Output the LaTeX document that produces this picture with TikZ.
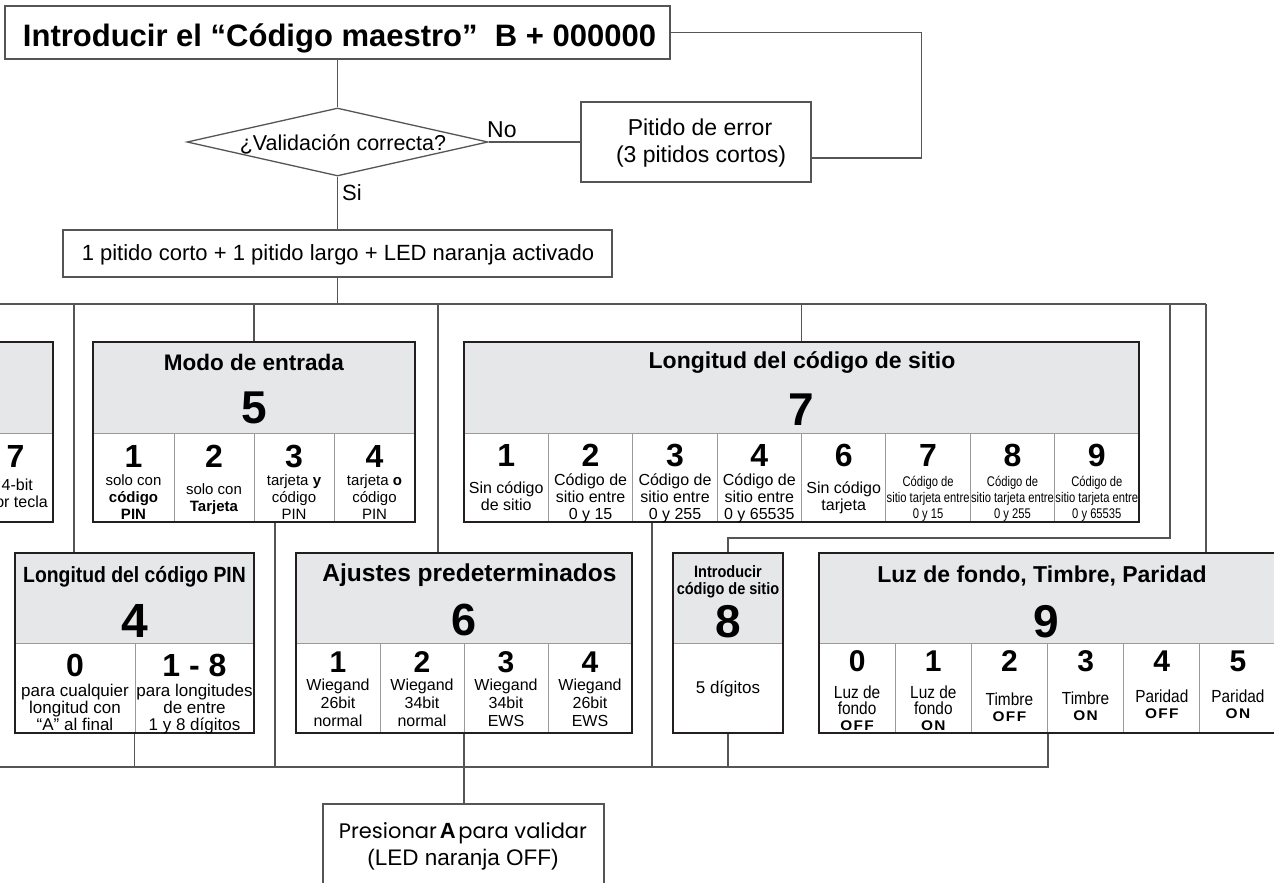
\documentclass[tikz,border=0pt]{standalone}
\usepackage{fontspec}
\setmainfont{Liberation Sans}
\newfontfamily\narrowA[FakeStretch=0.8]{Liberation Sans}
\newfontfamily\narrowB[FakeStretch=0.88]{Liberation Sans}
\newfontfamily\spacedf[LetterSpace=10,FakeStretch=1.1]{Liberation Sans}
\newfontfamily\popf{Poppins}
\usetikzlibrary{shapes.geometric,calc,fit}
\newcommand\fs[2]{\fontsize{#1}{#2}\selectfont}
\definecolor{hdrgray}{HTML}{E6E7E8}
\definecolor{framec}{HTML}{231F20}
\definecolor{connc}{HTML}{555555}
\definecolor{cellc}{HTML}{9A9A9A}
\begin{document}
\begin{tikzpicture}[x=1pt,y=-1pt,
  line/.style={draw=connc, line width=1.3pt},
  plainbox/.style={draw=connc, line width=1.3pt, rectangle, inner sep=0pt},
  secframe/.style={draw=framec, line width=2pt, rectangle, inner sep=0pt},
  div/.style={draw=cellc, line width=1pt},
  txt/.style={inner sep=0pt, align=center, text=black},
  basest/.style={txt, anchor=base},
  cellt/.style={txt, anchor=north},
]
\clip (0,0) rectangle (1274,883);
\fill[white] (0,0) rectangle (1274,883);

% ---------- top part ----------
\node[plainbox, fit={(5,6) (670,59)}] (title) {};
\node[basest, font=\fs{31}{31}\bfseries] (titletxt) at (339.5,46.5) {Introducir el “Código maestro”\ \ B + 000000};

\node[diamond, draw=connc, line width=1.3pt, minimum width=301pt, minimum height=68pt, inner sep=0pt] (valid) at (337.5,142) {};
\node[basest, font=\fs{21.5}{22}] (validtxt) at (343,150) {¿Validación correcta?};

\node[plainbox, fit={(581,102) (811,182)}] (err) {};
\node[basest, font=\fs{23}{23}] (errt1) at (700,135) {Pitido de error};
\node[basest, font=\fs{23}{23}] (errt2) at (701,162) {(3 pitidos cortos)};

\node[plainbox, fit={(63,230) (612,277)}] (led) {};
\node[basest, font=\fs{22}{22}] (ledtxt) at (338,260) {1 pitido corto + 1 pitido largo + LED naranja activado};

\node[txt, anchor=base west, font=\fs{23}{23}] (nolbl) at (487,137) {No};
\node[txt, anchor=base west, font=\fs{22}{22}] (silbl) at (342,200) {Si};

\draw[line] (title.south) -- (valid.north);
\draw[line] (valid.east) -- (err.west);
\draw[line] ($(err.east)+(0,16)$) -- ++(110,0) |- (title.east);
\draw[line] (valid.south) -- (led.north);

% ---------- section boxes ----------
% left partial box
\fill[hdrgray] (-250,342) rectangle (53,433);
\draw[div] (-250,433) -- (53,433);
\draw[div] (-27,433) -- (-27,522);
\node[secframe, fit={(-250,342) (53,522)}] (leftbox) {};
\node[basest, font=\fs{32}{32}\bfseries] (l7n) at (15.5,467) {7};
\node[txt, anchor=base east, font=\fs{16}{16}] (l7a) at (33,490) {4-bit};
\node[txt, anchor=base east, font=\fs{16}{16}] (l7b) at (48,507) {por tecla};

% Modo de entrada
\fill[hdrgray] (93,342) rectangle (415,433);
\draw[div] (93,433) -- (415,433);
\foreach \x in {174,254,334} \draw[div] (\x,433) -- (\x,522);
\node[secframe, fit={(93,342) (415,522)}] (modo) {};
\node[basest, font=\fs{22.5}{23}\bfseries] (modot) at (254,370) {Modo de entrada};
\node[basest, font=\fs{46}{46}\bfseries] (modon) at (254,423) {5};
\foreach \i/\cx/\ty/\tx in {1/133.5/474/{solo con\\\textbf{código}\\\textbf{PIN}},
                          2/214/483/{solo con\\\textbf{Tarjeta}},
                          3/294/474/{tarjeta \textbf{y}\\código\\PIN},
                          4/374.5/474/{tarjeta \textbf{o}\\código\\PIN}}{
  \node[basest, font=\fs{32}{32}\bfseries] (m\i n) at (\cx,467) {\i};
  \node[cellt, font=\fs{15}{17}] (m\i t) at (\cx,\ty) {\tx};
}

% Longitud del codigo de sitio
\fill[hdrgray] (464,342) rectangle (1139,433);
\draw[div] (464,433) -- (1139,433);
\foreach \x in {548.4,632.8,717.1,801.5,885.9,970.3,1054.6} \draw[div] (\x,433) -- (\x,522);
\node[secframe, fit={(464,342) (1139,522)}] (lon) {};
\node[basest, font=\fs{23}{23}\bfseries] (lont) at (802,368) {Longitud del código de sitio};
\node[basest, font=\fs{46}{46}\bfseries] (lonn) at (801.5,425) {7};
\foreach \i/\cx/\ty/\tx in {1/506.2/482/{Sin código\\de sitio},
                          2/590.6/474/{Código de\\sitio entre\\0 y 15},
                          3/675.0/474/{Código de\\sitio entre\\0 y 255},
                          4/759.3/474/{Código de\\sitio entre\\0 y 65535},
                          6/843.7/482/{Sin código\\tarjeta}}{
  \node[basest, font=\fs{32}{32}\bfseries] (s\i n) at (\cx,466) {\i};
  \node[cellt, font=\fs{16}{17}] (s\i t) at (\cx,\ty) {\tx};
}
\foreach \i/\cx/\tx in {7/928.1/{0 y 15}, 8/1012.5/{0 y 255}, 9/1096.8/{0 y 65535}}{
  \node[basest, font=\fs{32}{32}\bfseries] (s\i n) at (\cx,466) {\i};
  \node[cellt, font=\narrowA\fs{14}{16}] (s\i t) at (\cx,476) {Código de\\sitio tarjeta entre\\\tx};
}

% Longitud del codigo PIN
\fill[hdrgray] (15,553) rectangle (254,643);
\draw[div] (15,643) -- (254,643);
\draw[div] (135,643) -- (135,733);
\node[secframe, fit={(15,553) (254,733)}] (pin) {};
\node[basest, font=\narrowB\fs{22}{22}\bfseries] (pint) at (134.5,582) {Longitud del código PIN};
\node[basest, font=\fs{48}{48}\bfseries] (pinn) at (134.5,637) {4};
\node[basest, font=\fs{32}{32}\bfseries] (p0n) at (75,676) {0};
\node[cellt, font=\fs{17}{17}] (p0t) at (75,684) {para cualquier\\longitud con\\“A” al final};
\node[basest, font=\fs{32}{32}\bfseries] (p1n) at (194.5,676) {1 - 8};
\node[cellt, font=\fs{17}{17}] (p1t) at (194.5,684) {para longitudes\\de entre\\1 y 8 dígitos};

% Ajustes predeterminados
\fill[hdrgray] (296,553) rectangle (632,643);
\draw[div] (296,643) -- (632,643);
\foreach \x in {380,464,548} \draw[div] (\x,643) -- (\x,733);
\node[secframe, fit={(296,553) (632,733)}] (aj) {};
\node[basest, font=\fs{24.5}{25}\bfseries] (ajt) at (469.5,581) {Ajustes predeterminados};
\node[basest, font=\fs{45}{45}\bfseries] (ajn) at (464,635) {6};
\foreach \i/\cx/\tx in {1/338/{Wiegand\\26bit\\normal}, 2/422/{Wiegand\\34bit\\normal},
                      3/506/{Wiegand\\34bit\\EWS}, 4/590/{Wiegand\\26bit\\EWS}}{
  \node[basest, font=\fs{30}{30}\bfseries] (a\i n) at (\cx,672) {\i};
  \node[cellt, font=\fs{16}{18}] (a\i t) at (\cx,679) {\tx};
}

% Introducir codigo de sitio
\fill[hdrgray] (673,553) rectangle (783,643);
\draw[div] (673,643) -- (783,643);
\node[secframe, fit={(673,553) (783,733)}] (intro) {};
\node[cellt, font=\narrowB\fs{16.5}{17}\bfseries] (introt) at (728,565) {Introducir\\código de sitio};
\node[basest, font=\fs{46}{46}\bfseries] (intron) at (728,637) {8};
\node[basest, font=\fs{17}{17}] (introc) at (728,693) {5 dígitos};

% Luz de fondo, Timbre, Paridad
\fill[hdrgray] (819,553) rectangle (1277,643);
\draw[div] (819,643) -- (1277,643);
\foreach \x in {895.2,971.3,1047.5,1123.7,1199.8} \draw[div] (\x,643) -- (\x,733);
\node[secframe, fit={(819,553) (1277,733)}] (luz) {};
\node[basest, font=\fs{23}{23}\bfseries] (luzt) at (1042,582) {Luz de fondo, Timbre, Paridad};
\node[basest, font=\fs{46}{46}\bfseries] (luzn) at (1046,637) {9};
\foreach \i/\cx/\ty/\tx in {0/857.1/686/{Luz de\\fondo\\{\spacedf\bfseries\fs{14}{16}OFF}},
                          1/933.3/686/{Luz de\\fondo\\{\spacedf\bfseries\fs{14}{16}ON}},
                          2/1009.4/693/{Timbre\\{\spacedf\bfseries\fs{14}{16}OFF}},
                          3/1085.6/692/{Timbre\\{\spacedf\bfseries\fs{14}{16}ON}},
                          4/1161.8/690/{Paridad\\{\spacedf\bfseries\fs{14}{16}OFF}},
                          5/1237.9/690/{Paridad\\{\spacedf\bfseries\fs{14}{16}ON}}}{
  \node[basest, font=\fs{30}{30}\bfseries] (z\i n) at (\cx,671) {\i};
  \node[cellt, font=\narrowB\fs{17.5}{16}] (z\i t) at (\cx,\ty) {\tx};
}

% Presionar A
\node[plainbox, fit={(323,804) (604,900)}] (pres) {};
\node[basest] (prest1) at (463,838) {{\popf\fs{21}{21}Presionar} {\bfseries\fs{22}{22}A} {\popf\fs{21}{21}para validar}};
\node[basest, font=\fs{22.5}{23}] (prest2) at (463,865) {(LED naranja OFF)};

% ---------- connectors ----------
\coordinate (busL) at (0,304);
\coordinate (busR) at (1206,304);
\coordinate (pinin) at (74,304);
\coordinate (ajin) at (438,304);
\coordinate (introin) at (1170,304);
\draw[line] (led.south) -- (led.south |- busL);
\draw[line] (busL) -- (busR);
\draw[line] (busR) -- (busR |- luz.north);
\draw[line] (pinin) -- (pinin |- pin.north);
\draw[line] (modo.north |- busL) -- (modo.north);
\draw[line] (ajin) -- (ajin |- aj.north);
\draw[line] (lon.north |- busL) -- (lon.north);
\draw[line] (introin) -- ++(0,234) -| (intro.north);

\coordinate (botL) at (0,767);
\coordinate (modoout) at ($(modo.south)+(21,0)$);
\coordinate (lonout) at ($(lon.south west)+(189,0)$);
\draw[line] (botL) -- (luz.south |- botL) -- (luz.south);
\draw[line] (pin.south) -- (pin.south |- botL);
\draw[line] (modoout) -- (modoout |- botL);
\draw[line] (aj.south) -- (aj.south |- pres.north);
\draw[line] (lonout) -- (lonout |- botL);
\draw[line] (intro.south) -- (intro.south |- botL);
\end{tikzpicture}
\end{document}
